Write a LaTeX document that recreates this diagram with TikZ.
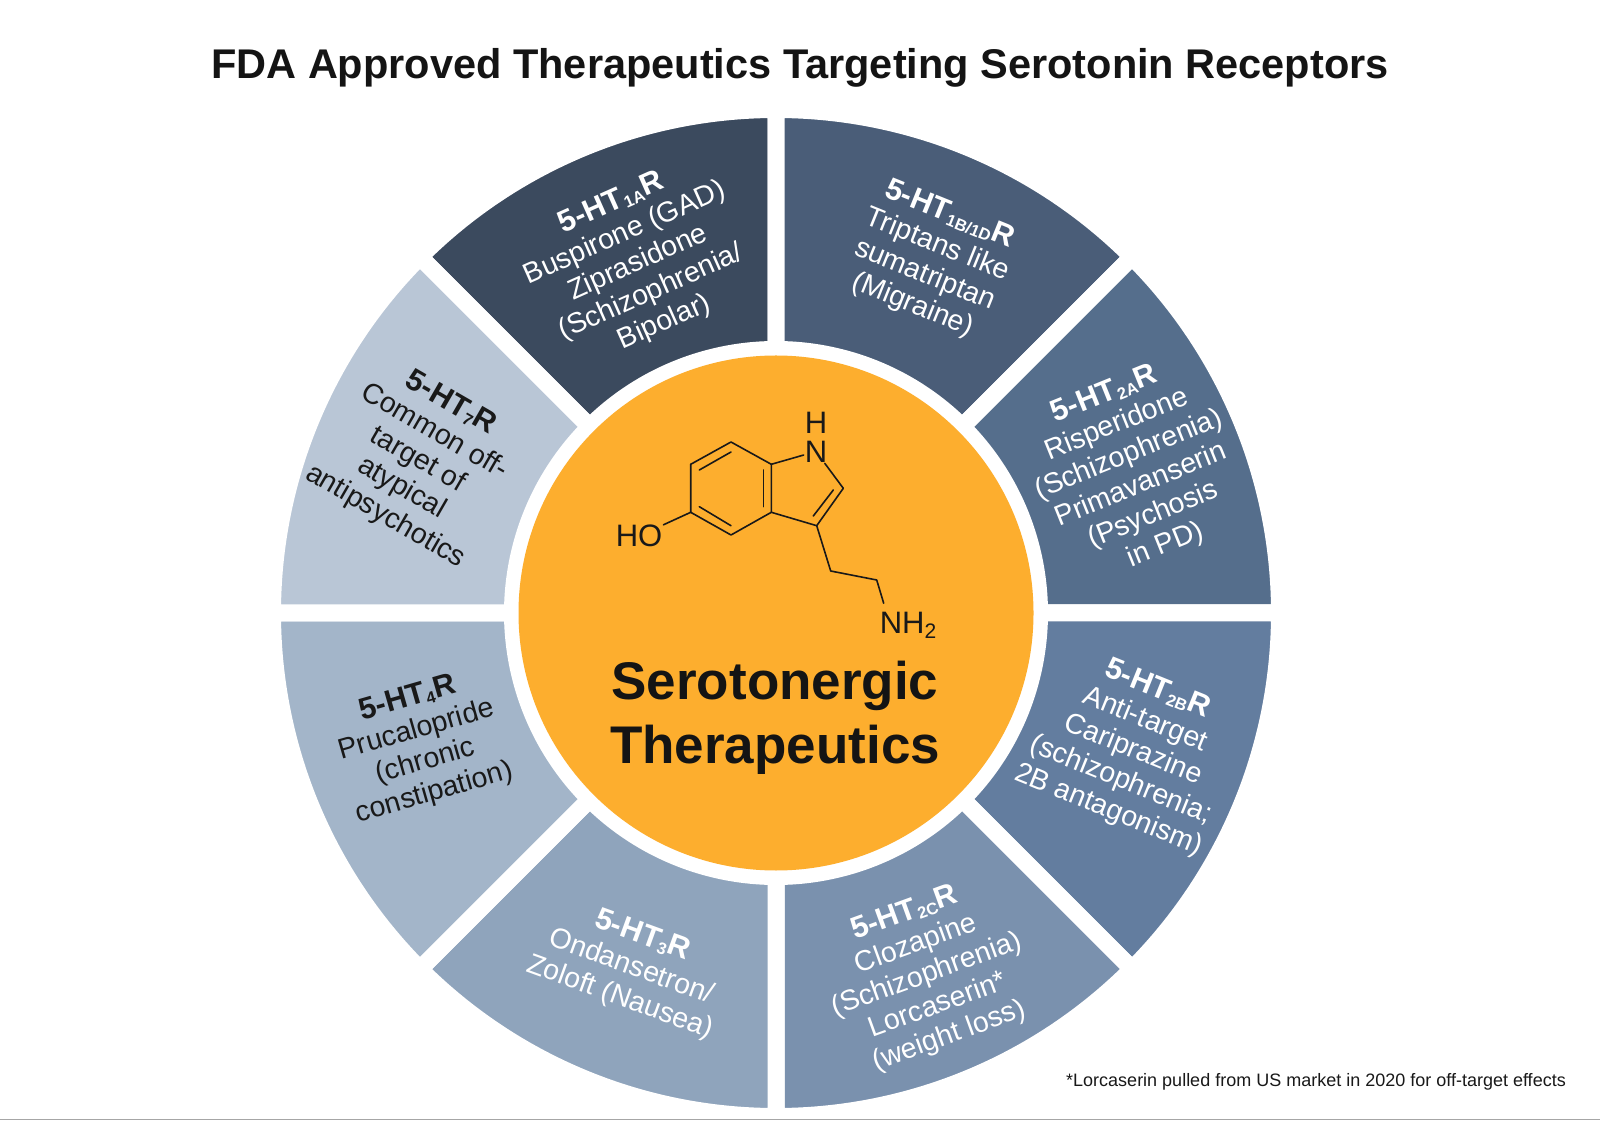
\documentclass[tikz,border=0pt]{standalone}
\usepackage{fontspec}
\setmainfont{Liberation Sans}
\newcommand{\rcpt}[1]{{\fontsize{30.5}{32}\selectfont\bfseries 5-HT{\raisebox{-0.2ex}{\fontsize{16.5}{16.5}\selectfont #1}}R}}
\definecolor{hubc}{HTML}{FDAE2E}
\begin{document}
\begin{tikzpicture}[x=1pt,y=1pt,
  sector/.style={draw=white, line width=17pt, line join=miter, miter limit=10},
  lbl/.style={align=center, font=\fontsize{28.5}{32.5}\selectfont, inner sep=0pt},
  lightlbl/.style={lbl, text=white},
  darklbl/.style={lbl, text=black!90},
  bond/.style={line width=1.6pt, black!90, line cap=round},
  atom/.style={font=\fontsize{31}{31}\selectfont, inner sep=1pt, text=black!90},
]
\useasboundingbox (0,0) rectangle (1600,1120);
\fill[white] (0,0) rectangle (1600,1120);

% Title
\node[font=\fontsize{41.5}{42}\selectfont\bfseries, text=black!92, inner sep=0pt] (title) at (800,1052.5) {FDA Approved Therapeutics Targeting Serotonin Receptors};

% Wheel
\begin{scope}[shift={(776,507)}]
\foreach \a/\c in {90/3B4A5E,45/4A5D78,0/556E8C,-45/637D9F,-90/7A91AE,-135/8FA4BC,-180/A3B5C9,135/B9C6D6}{
  \definecolor{wedgec}{HTML}{\c}
  \pgfmathsetmacro{\b}{\a+45}
  \draw[sector, fill=wedgec] (\a:263.5) -- (\a:503.5) arc (\a:\b:503.5) -- (\b:263.5) arc (\b:\a:263.5) -- cycle;
}
\node[circle, fill=hubc, minimum size=515pt, inner sep=0pt] (hub) at (0,0) {};
\end{scope}
\draw[black!35, line width=1pt] (0,0.5) -- (1600,0.5);

% Receptor labels
\node[lightlbl, rotate=24] (r1a) at (638,857) {\rcpt{1A}\\Buspirone (GAD)\\Ziprasidone\\(Schizophrenia/\\Bipolar)};
\node[lightlbl, rotate=-22] (r1b) at (931,860) {\rcpt{1B/1D}\\Triptans like\\sumatriptan\\(Migraine)};
\node[lightlbl, rotate=22] (r2a) at (1135,650) {\rcpt{2A}\\Risperidone\\(Schizophrenia)\\Primavanserin\\(Psychosis\\in PD)};
\node[lightlbl, rotate=-22] (r2b) at (1133,370) {\rcpt{2B}\\Anti-target\\Cariprazine\\(schizophrenia;\\2B antagonism)};
\node[lightlbl, rotate=20] (r2c) at (927,145) {\rcpt{2C}\\Clozapine\\(Schizophrenia)\\Lorcaserin*\\(weight loss)};
\node[lightlbl, rotate=-20] (r3) at (631,153) {\rcpt{3}\\Ondansetron/\\Zoloft (Nausea)};
\node[darklbl, rotate=16] (r4) at (421,374) {\rcpt{4}\\Prucalopride\\(chronic\\constipation)};
\node[darklbl, rotate=-30] (r7) at (418,660) {\rcpt{7}\\Common off-\\target of\\atypical\\antipsychotics};

% Serotonin
\coordinate (c1) at (731,678);
\coordinate (c2) at (771.3,655.7);
\coordinate (c3) at (771.3,607.7);
\coordinate (c4) at (731,585);
\coordinate (c5) at (690.7,607.7);
\coordinate (c6) at (690.7,655.7);
\coordinate (c7) at (843.3,631.7);
\coordinate (c8) at (816.7,594.3);
\coordinate (c9) at (830.7,549);
\coordinate (c10) at (876.7,540);
\coordinate (c11) at (883.7,516.7);
\node[atom] (nh) at (816,668.5) {N};
\node[atom] (h) at (816,697) {H};
\node[atom] (ho) at (639,584) {HO};
\node[atom] (nh2) at (908,495) {NH\raisebox{-0.3ex}{\fontsize{21}{21}\selectfont 2}};
\draw[bond, line join=round] (c3) -- (c4) -- (c5) -- (c6) -- (c1) -- (c2) -- (c3) -- (c8) -- (c7);
\draw[bond, line join=round] (c8) -- (c9) -- (c10) -- (c11);
\draw[bond] (c2) -- (nh);
\draw[bond] (nh) -- (c7);
\draw[bond] (c5) -- (ho);
\coordinate (d1) at (699.3,650);
\coordinate (d2) at (731,668);
\coordinate (d3) at (763.3,650);
\coordinate (d4) at (763.3,613.3);
\coordinate (d5) at (699.3,613.3);
\coordinate (d6) at (731,594.3);
\coordinate (d7) at (833.3,630);
\coordinate (d8) at (813.3,604);
\draw[bond] (d1) -- (d2);
\draw[bond] (d3) -- (d4);
\draw[bond] (d5) -- (d6);
\draw[bond] (d7) -- (d8);

% Centre text
\node[align=center, font=\fontsize{53}{64}\selectfont\bfseries, text=black!92, inner sep=0pt] (hubtext) at (775,402) {Serotonergic\\Therapeutics};

% Footnote
\node[font=\fontsize{18}{18}\selectfont, text=black!90, inner sep=0pt] (note) at (1316,38) {*Lorcaserin pulled from US market in 2020 for off-target effects};
\end{tikzpicture}
\end{document}
